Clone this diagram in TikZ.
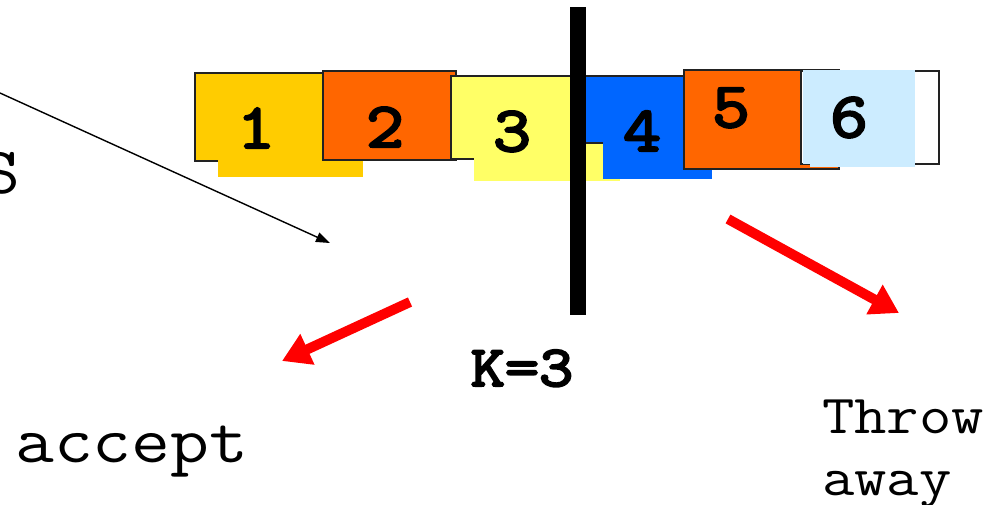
\documentclass[tikz,border=0pt]{standalone}
\usepackage{fontspec}
\newfontfamily\monobold{Latin Modern Mono}[FakeBold=3.5]
\usetikzlibrary{arrows.meta}
\definecolor{cA}{HTML}{FFCC00}
\definecolor{cB}{HTML}{FF6600}
\definecolor{cC}{HTML}{FFFF66}
\definecolor{cD}{HTML}{0066FF}
\definecolor{cE}{HTML}{CCECFF}
\definecolor{edge}{HTML}{222222}
\newcommand{\wide}[1]{\scalebox{1.143}[1]{#1}}
\tikzset{
  boxline/.style={draw=edge,line width=1.6pt},
  digit/.style={inner sep=0pt,anchor=base,font=\monobold\fontsize{64}{64}\selectfont},
  word/.style={inner sep=0pt,anchor=base west,font=\ttfamily\fontsize{#1}{#1}\selectfont},
  redarrow/.style={draw=red,line width=10pt,-{Triangle[length=28pt,width=32pt]}},
  thinarrow/.style={draw=black,line width=1.4pt,-{Triangle[length=14pt,width=10pt]}}
}
\begin{document}
\begin{tikzpicture}[x=1pt,y=-1pt]
\useasboundingbox (0,0) rectangle (999,504);
\clip (0,0) rectangle (999,504);
% box 1
\filldraw[boxline,fill=cA] (195,73) rectangle (330,161);
\fill[cA] (218,100) rectangle (363,177);
% box 2
\filldraw[boxline,fill=cB] (323,71) rectangle (456,160);
% box 3
\filldraw[boxline,fill=cC] (451,76) rectangle (600,159);
\fill[cC] (474,100) rectangle (620,181);
% box 4
\filldraw[boxline,fill=cD] (580,76) rectangle (700,143);
\fill[cD] (603,100) rectangle (712,179);
% box 5
\filldraw[boxline,fill=cB] (684,70) rectangle (839,169);
% box 6
\filldraw[boxline,fill=white] (801,71) rectangle (939,164);
\fill[cE] (802.8,70.2) rectangle (915,164);
\fill[cE] (810,150) rectangle (915,167);
% divider
\fill[black] (570,7) rectangle (586,315);
% digits
\node[digit] (d1) at (256,148) {\wide{1}};
\node[digit] (d2) at (385,147) {\wide{2}};
\node[digit] (d3) at (512,151) {\wide{3}};
\node[digit] (d4) at (642,151) {\wide{4}};
\node[digit] (d5) at (731,127) {\wide{5}};
\node[digit] (d6) at (849,137) {\wide{6}};
% K label
\node[inner sep=0pt,anchor=base,font=\monobold\fontsize{58}{58}\selectfont] (k) at (522,386) {\wide{K=3}};
% texts
\node[word=66] (s) at (-19,193) {\wide{S}};
\node[word=66] (acc) at (15,462) {\wide{accept}};
\node[word=55] (thr) at (822,433) {\wide{Throw}};
\node[word=55] (awy) at (822,495) {\wide{away}};
% arrows
\coordinate (t0) at (0,93);
\coordinate (t1) at (330,243);
\draw[thinarrow] (t0) -- (t1);
\coordinate (l0) at (410,302);
\coordinate (l1) at (282,361);
\draw[redarrow] (l0) -- (l1);
\coordinate (r0) at (728,219);
\coordinate (r1) at (899,313);
\draw[redarrow] (r0) -- (r1);
\end{tikzpicture}
\end{document}
